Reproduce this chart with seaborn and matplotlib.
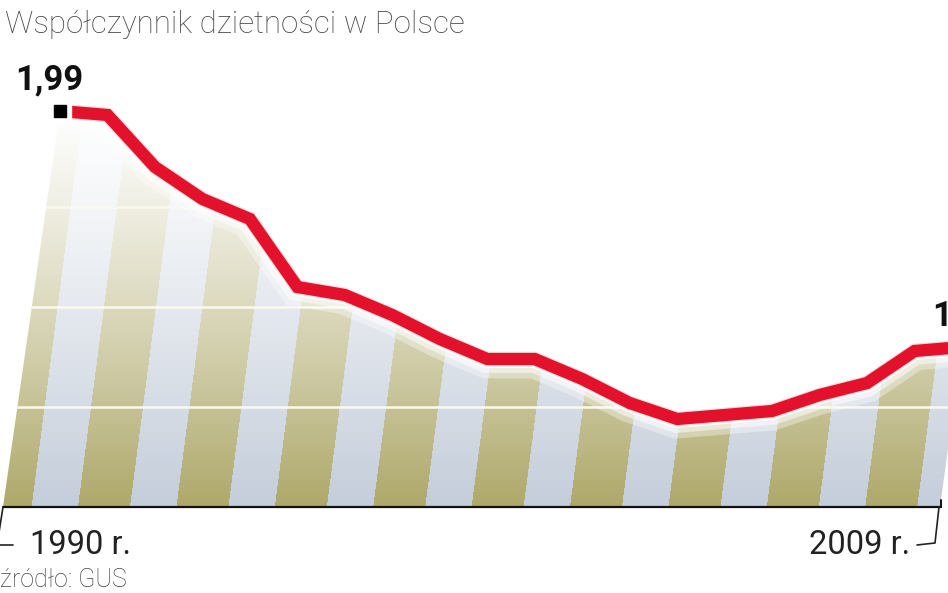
import numpy as np
import pandas as pd
import matplotlib
matplotlib.use("Agg")
import matplotlib.pyplot as plt
import seaborn as sns
from matplotlib.patches import Polygon

# ---------------- data ----------------
years = list(range(1990, 2010))
fertility = [1.99, 1.98, 1.85, 1.77, 1.72, 1.55, 1.53, 1.48, 1.42, 1.37,
             1.37, 1.32, 1.26, 1.22, 1.23, 1.24, 1.28, 1.31, 1.39, 1.40]
value_labels = ["1,99", "1,40"]
year_labels = ["1990 r.", "2009 r."]
title = "Współczynnik dzietności w Polsce"
source = "źródło: GUS"
grid_values = [1.25, 1.5, 1.75]
base_value = 1.0

df = pd.DataFrame({"rok": years, "wsp": fertility})

sns.set_theme(style="white")
plt.rcParams['font.family'] = ['Roboto', 'DejaVu Sans']

W, H, DPI = 948, 593, 100
fig = plt.figure(figsize=(W / DPI, H / DPI), dpi=DPI)
ax = fig.add_axes([0, 0, 1, 1])

# layout (pixels)
X0_PX, X1_PX = 60, 962
BASE_PX = 507
PX_PER_UNIT = 400
k = (X1_PX - X0_PX) / (years[-1] - years[0])


def px2x(px):
    return years[0] + (px - X0_PX) / k


def py2y(py):
    return base_value + (BASE_PX - py) / PX_PER_UNIT


xlim = (px2x(0), px2x(W))
ylim = (py2y(H), py2y(0))

# ---------------- striped gradient background ----------------
cols = np.arange(W) + 0.5
rows = np.arange(H) + 0.5
PXg, PYg = np.meshgrid(cols, rows)
s = PXg - 0.13 * (BASE_PX - PYg)
phase = np.mod(s - 78, 98.4)
olive = phase < 52
t = np.clip((PYg - 105) / (BASE_PX - 105), 0, 1) ** 1.2
olive_c = np.array([174, 168, 106]) / 255
light_c = np.array([196, 205, 218]) / 255
basecol = np.where(olive[..., None], olive_c, light_c)
img = 1 - (1 - basecol) * t[..., None]
im = ax.imshow(img, extent=(xlim[0], xlim[1], ylim[0], ylim[1]), origin='upper',
               aspect='auto', interpolation='bilinear', zorder=1)

# area polygon under line
poly_x = [px2x(3)] + years + [px2x(940)]
poly_y = [base_value] + fertility + [base_value]
poly = Polygon(np.column_stack([poly_x, poly_y]), closed=True,
               facecolor='none', edgecolor='none', transform=ax.transData)
ax.add_patch(poly)
im.set_clip_path(poly)

# gridlines
for g in grid_values:
    gl = ax.axhline(g, color='#fbf9ee', lw=1.8, zorder=2)
    gl.set_clip_path(poly)

# glow under line
for lw, a in [(28, 0.35), (20, 0.5), (13, 0.8)]:
    sns.lineplot(data=df, x='rok', y='wsp', color='white', lw=lw, alpha=a,
                 sort=False, ax=ax, zorder=3, legend=False)
sns.lineplot(data=df, x='rok', y='wsp', color='#ecdcdc', lw=10.5,
             sort=False, ax=ax, zorder=4, legend=False)
# red line
sns.lineplot(data=df, x='rok', y='wsp', color='#e4112c', lw=8.8,
             sort=False, ax=ax, zorder=5, legend=False)
for line in ax.lines[-5:]:
    line.set_solid_joinstyle('miter')
    line.set_solid_capstyle('butt')

# start marker
ax.plot([years[0]], [fertility[0]], marker='s', ms=16, color='white', zorder=6)
ax.plot([years[0]], [fertility[0]], marker='s', ms=8.4, color='black', zorder=7)

# value labels (left edge offsets in px)
for xi, yi, lab, dx in [(years[0], fertility[0], value_labels[0], -45),
                        (years[-1], fertility[-1], value_labels[1], -30)]:
    ax.text(xi + dx / k, yi + 22 / PX_PER_UNIT, lab, ha='left', va='baseline',
            fontsize=25, fontweight='bold', color='#111111', zorder=8)

# baseline and brackets
ax.plot([px2x(3), px2x(941)], [base_value, base_value], color='#111111', lw=1.6, zorder=6)
ax.plot([px2x(941), px2x(941)], [base_value, py2y(500)], color='#111111', lw=1.4, zorder=6)
ax.plot([px2x(3), px2x(-3), px2x(13)], [base_value, py2y(545), py2y(545)],
        color='#222222', lw=1.2, zorder=6)
ax.plot([px2x(939), px2x(935), px2x(917)], [base_value, py2y(543), py2y(545)],
        color='#222222', lw=1.2, zorder=6)

ax.set_xlim(*xlim)
ax.set_ylim(*ylim)
ax.axis('off')

# texts
fig.text(5 / W, 1 - 33 / H, title, fontsize=22.5, fontweight='light', color='#474747',
         ha='left', va='baseline')
fig.text(30 / W, 1 - 554 / H, year_labels[0], fontsize=23.5, color='#222222',
         ha='left', va='baseline')
fig.text(910 / W, 1 - 554 / H, year_labels[1], fontsize=23.5, color='#222222',
         ha='right', va='baseline')
fig.text(0 / W, 1 - 587 / H, source, fontsize=18, fontweight='light', color='#444444',
         ha='left', va='baseline')

fig.savefig('out.png', dpi=DPI)
